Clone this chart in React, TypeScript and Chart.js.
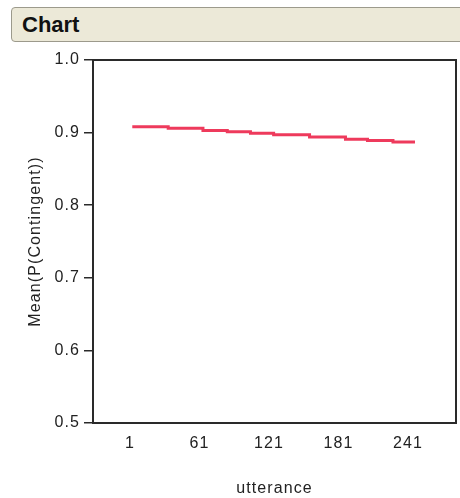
import React, { useEffect, useRef } from "react";
import { Chart, registerables } from "chart.js";

Chart.register(...registerables);

// Step boundaries along the utterance axis and mean value of each step
const utteranceBreaks = [3, 34, 64, 85, 105, 125, 156, 187, 206, 228, 247];
const meanPContingent = [0.908, 0.906, 0.903, 0.901, 0.899, 0.897, 0.894, 0.891, 0.889, 0.887];
const xTickValues = [1, 61, 121, 181, 241];
const yTickValues = [0.5, 0.6, 0.7, 0.8, 0.9, 1.0];

const FONT = "'Liberation Sans', Arial, sans-serif";

const spacingPlugin = {
  id: "spacing",
  beforeDraw(chart: any) {
    chart.ctx.letterSpacing = "1.1px";
  },
};

const framePlugin = {
  id: "frame",
  afterDraw(chart: any) {
    const { ctx, chartArea } = chart;
    ctx.save();
    ctx.strokeStyle = "#2a2a2a";
    ctx.lineWidth = 2;
    ctx.strokeRect(chartArea.left, chartArea.top, chartArea.right - chartArea.left, chartArea.bottom - chartArea.top);
    ctx.restore();
  },
};

export default function App() {
  const ref = useRef<HTMLCanvasElement | null>(null);

  useEffect(() => {
    if (!ref.current) return;
    const points = utteranceBreaks.map((b, i) => ({
      x: b,
      y: meanPContingent[Math.min(i, meanPContingent.length - 1)],
    }));
    const chart = new Chart(ref.current, {
      type: "line",
      data: {
        datasets: [
          {
            data: points,
            borderColor: "#EE3A5C",
            borderWidth: 3,
            pointRadius: 0,
            stepped: "before",
            fill: false,
          },
        ],
      },
      options: {
        animation: false,
        responsive: false,
        events: [],
        layout: { padding: { left: 0, top: 60, right: 4, bottom: 0 } },
        plugins: { legend: { display: false }, tooltip: { enabled: false }, title: { display: false } },
        scales: {
          x: {
            type: "linear",
            min: -30.9,
            max: 282.4,
            afterBuildTicks: (scale: any) => {
              scale.ticks = xTickValues.map((v) => ({ value: v }));
            },
            afterFit: (scale: any) => {
              scale.height = 75;
            },
            grid: { display: false, drawTicks: false },
            border: { display: false },
            ticks: {
              autoSkip: false,
              maxRotation: 0,
              padding: 11,
              color: "#222",
              font: { family: FONT, size: 16 },
              callback: (v: any) => String(v),
            },
            title: {
              display: true,
              text: "utterance",
              color: "#222",
              font: { family: FONT, size: 16 },
              padding: { top: 0, bottom: 0 },
            },
          },
          y: {
            type: "linear",
            min: 0.5,
            max: 1.0,
            afterBuildTicks: (scale: any) => {
              scale.ticks = yTickValues.map((v) => ({ value: v }));
            },
            afterFit: (scale: any) => {
              scale.width = 93;
            },
            grid: {
              display: true,
              drawOnChartArea: false,
              drawTicks: true,
              tickLength: 9,
              color: "#2a2a2a",
              lineWidth: 1.5,
            },
            border: { display: false },
            ticks: {
              padding: 4,
              color: "#222",
              font: { family: FONT, size: 16 },
              callback: (v: any) => Number(v).toFixed(1),
            },
            title: {
              display: true,
              text: "Mean(P(Contingent))",
              color: "#222",
              font: { family: FONT, size: 16 },
              padding: { top: 26, bottom: 0 },
            },
          },
        },
      },
      plugins: [spacingPlugin, framePlugin],
    });
    return () => chart.destroy();
  }, []);

  return (
    <div style={{ position: "absolute", left: 0, top: 0, width: 460, height: 498, background: "#fff", overflow: "hidden" }}>
      <canvas ref={ref} width={460} height={498} style={{ position: "absolute", left: 0, top: 0 }} />
      <div
        style={{
          position: "absolute",
          left: 11,
          top: 7,
          width: 470,
          height: 35,
          background: "#ECE9D8",
          border: "1px solid #9c9a8c",
          borderRadius: 4,
          boxSizing: "border-box",
          fontFamily: FONT,
          fontWeight: "bold",
          fontSize: 22,
          color: "#111",
          lineHeight: "33px",
          paddingLeft: 10,
        }}
      >
        Chart
      </div>
    </div>
  );
}
